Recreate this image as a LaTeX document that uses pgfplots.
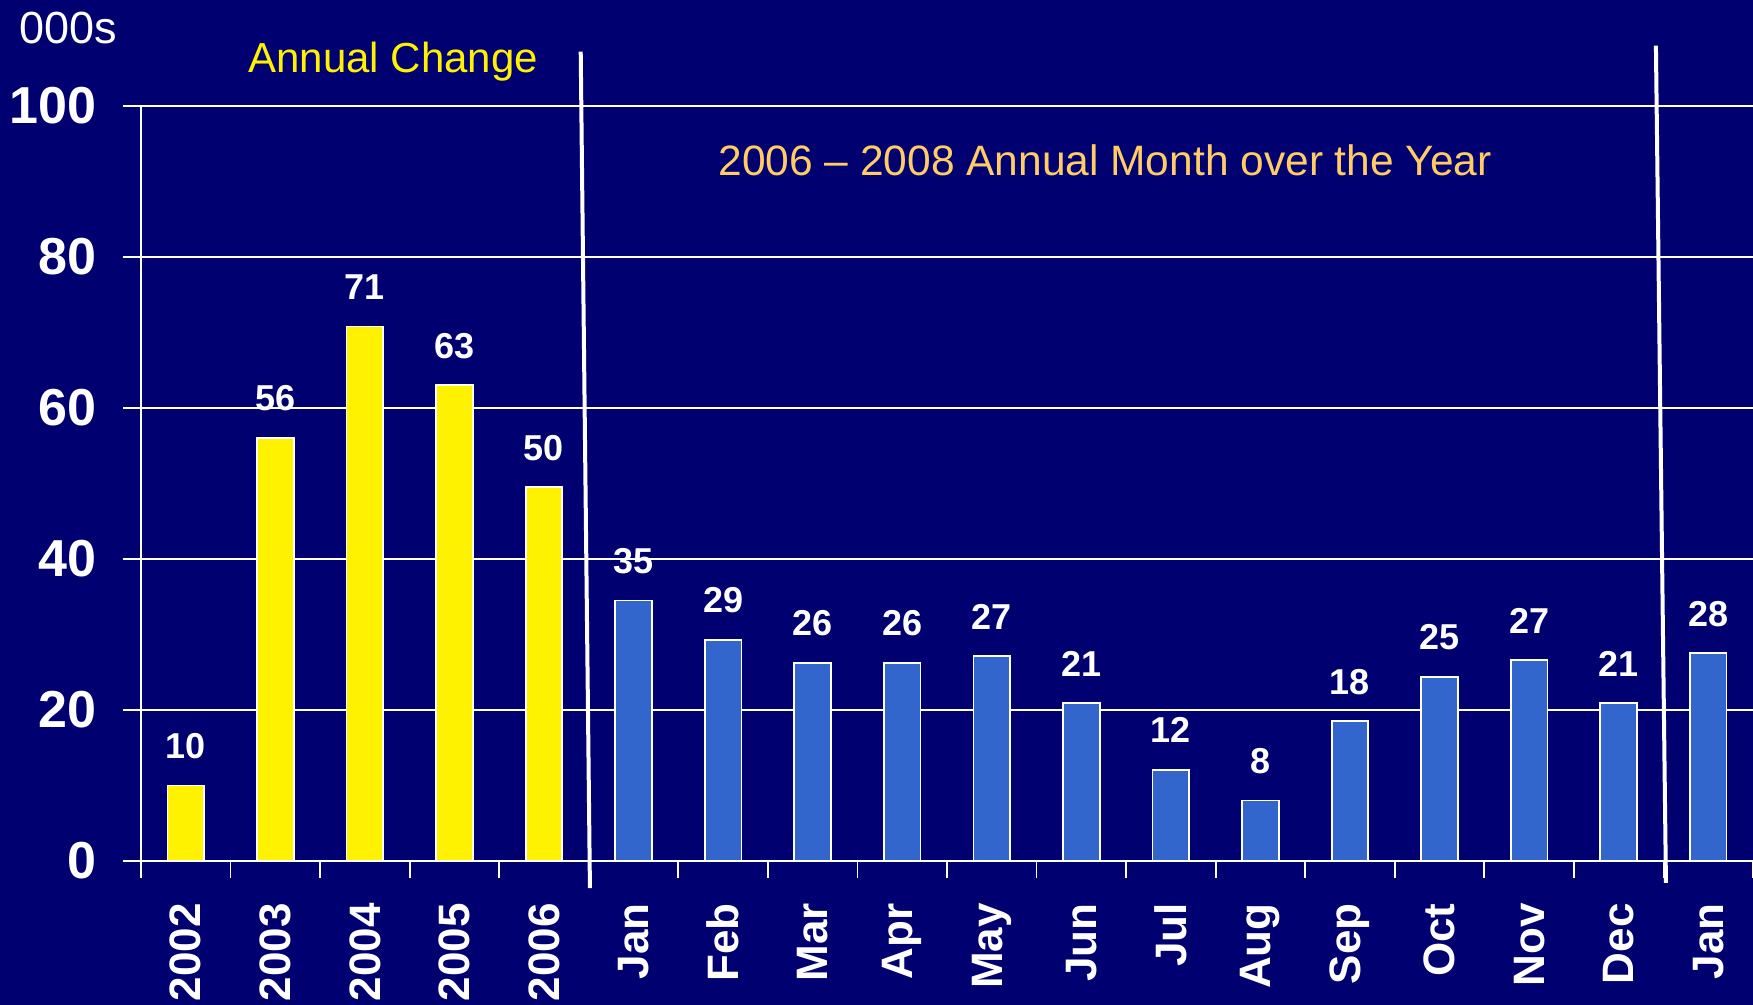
\documentclass[border=0pt]{standalone}
\usepackage{pgfplots}
\pgfplotsset{compat=1.18}
\usepackage{fontspec}
\setmainfont{Liberation Sans}
\definecolor{navy}{RGB}{0,0,112}
\definecolor{barblue}{RGB}{51,102,204}
\definecolor{titleorange}{RGB}{255,204,102}
\begin{document}
\begin{tikzpicture}
\fill[navy] (-70.5pt,-72pt) rectangle (806pt,430.5pt);
\begin{axis}[
  at={(0pt,0pt)}, anchor=south west,
  scale only axis, width=806pt, height=377.5pt,
  xmin=-0.5, xmax=17.5, ymin=0, ymax=100,
  clip=false,
  axis x line=bottom, axis y line=left,
  axis line style={white, line width=0.9pt, -},
  xtick={0,...,17},
  xticklabels={2002,2003,2004,2005,2006,Jan,Feb,Mar,Apr,May,Jun,Jul,Aug,Sep,Oct,Nov,Dec,Jan},
  minor xtick={-0.5,0.5,...,17.5},
  major x tick style={draw=none},
  minor x tick style={white, line width=0.9pt},
  minor tick length=8.5pt,
  major tick length=9pt,
  tick align=outside,
  ytick={0,20,...,100},
  ytick style={white, line width=0.9pt},
  ymajorgrids, grid style={white, line width=0.8pt},
  /pgf/number format/assume math mode=true,
  xticklabel style={rotate=90, anchor=east, inner sep=0pt, text=white,
    font=\bfseries\fontsize{22}{22}\selectfont},
  xticklabel shift=12pt,
  yticklabel style={anchor=east, inner sep=0pt, text=white,
    font=\bfseries\fontsize{26}{26}\selectfont},
  yticklabel shift=13pt,
  nodes near coords,
  point meta=explicit symbolic,
  nodes near coords style={anchor=south, inner sep=0pt, yshift=13pt, text=white,
    font=\bfseries\fontsize{18}{18}\selectfont},
]
\addplot[ybar, bar width=0.41, bar shift=0pt, fill=yellow, draw=white, line width=0.9pt]
  table[x=x, y=y, meta=lab] {
x y lab
0 10.0 10
1 56.0 56
2 70.8 71
3 63.0 63
4 49.5 50
};
\addplot[ybar, bar width=0.41, bar shift=0pt, fill=barblue, draw=white, line width=0.9pt]
  table[x=x, y=y, meta=lab] {
x y lab
5 34.5 35
6 29.3 29
7 26.2 26
8 26.2 26
9 27.1 27
10 20.9 21
11 12.1 12
12 8.0 8
13 18.5 18
14 24.4 25
15 26.6 27
16 20.9 21
17 27.5 28
};
\draw[white, line width=2pt] (axis cs:4.41,107.2) -- (axis cs:4.513,-3.6);
\draw[white, line width=2pt] (axis cs:16.416,108.0) -- (axis cs:16.528,-2.9);
\end{axis}
\node[anchor=west, inner sep=0pt, text=white, font=\fontsize{22.5}{22.5}\selectfont] at (-61pt,416.5pt) {000s};
\node[anchor=west, inner sep=0pt, text=yellow, font=\fontsize{21}{21}\selectfont] at (53.5pt,399.8pt) {Annual Change};
\node[anchor=west, inner sep=0pt, text=titleorange, font=\fontsize{21.25}{21.25}\selectfont] at (288.5pt,350.5pt) {2006 -- 2008 Annual Month over the Year};
\pgfresetboundingbox
\path[use as bounding box] (-70.5pt,-72pt) rectangle (806pt,430.5pt);
\end{tikzpicture}
\end{document}
